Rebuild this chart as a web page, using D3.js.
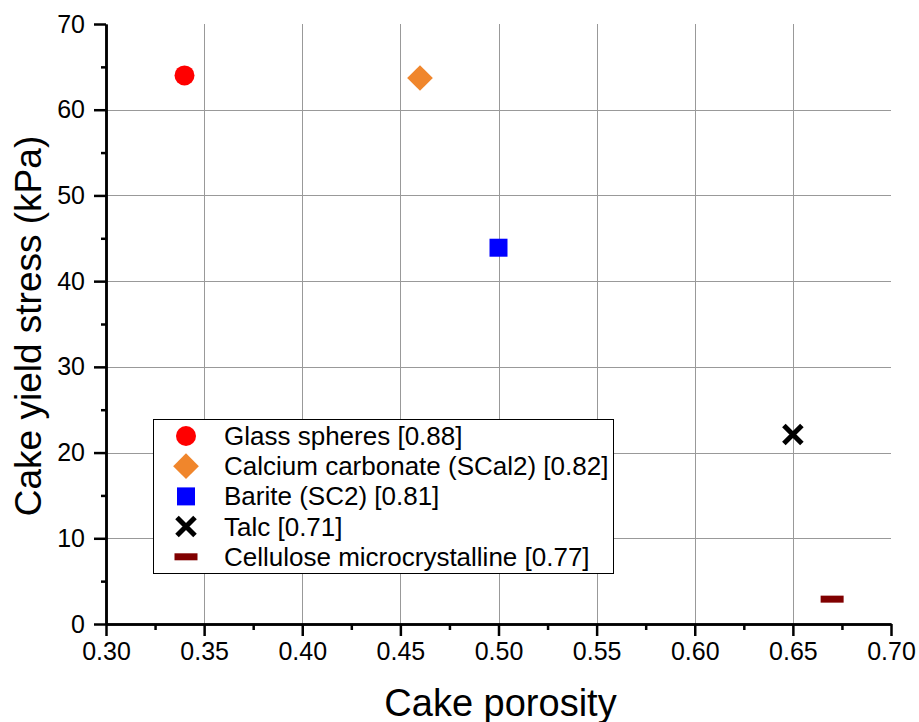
<!DOCTYPE html>
<html>
<head>
<meta charset="utf-8">
<script src="https://cdn.jsdelivr.net/npm/d3@7"></script>
<style>
    body { margin: 0; background: #fff; }
    svg { display: block; font-family: "Liberation Sans", Arial, sans-serif; }
</style>
</head>
<body>
<svg id="chart"></svg>
<script>
// данные
let materials = ['Glass spheres [0.88]', 'Calcium carbonate (SCal2) [0.82]', 'Barite (SC2) [0.81]', 'Talc [0.71]', 'Cellulose microcrystalline [0.77]'];
let porosity = [0.34, 0.46, 0.50, 0.65, 0.67];
let yieldStress = [64.0, 63.7, 43.9, 22.1, 2.9];
let xTicks = [0.30, 0.35, 0.40, 0.45, 0.50, 0.55, 0.60, 0.65, 0.70];
let yTicks = [0, 10, 20, 30, 40, 50, 60, 70];

// оформление
let shapes = ['circle', 'diamond', 'square', 'cross', 'dash'];
let colors = ['#ff0000', '#f0862c', '#0000ff', '#000000', '#800000'];

const width = 919;
const height = 722;
let svg = d3.select('#chart').attr('width', width).attr('height', height);

let scX = d3.scaleLinear().domain([0.30, 0.70]).range([106, 891]);
let scY = d3.scaleLinear().domain([0, 70]).range([624, 24]);

// сетка
let grid = svg.append('g').attr('stroke', '#999').attr('stroke-width', 1);
grid.selectAll('.gx')
    .data(xTicks.slice(1, -1))
    .enter()
    .append('line')
    .attr('x1', d => Math.round(scX(d)) + 0.5)
    .attr('x2', d => Math.round(scX(d)) + 0.5)
    .attr('y1', scY(70))
    .attr('y2', scY(0));
grid.selectAll('.gy')
    .data(yTicks.slice(1, -1))
    .enter()
    .append('line')
    .attr('x1', scX(0.30))
    .attr('x2', scX(0.70))
    .attr('y1', d => Math.round(scY(d)) + 0.5)
    .attr('y2', d => Math.round(scY(d)) + 0.5);

// оси
let minorX = xTicks.slice(0, -1).map(d => d + 0.025);
let minorY = yTicks.slice(0, -1).map(d => d + 5);

let styleAxis = (g) => {
    g.select('.domain').attr('stroke-width', 2.5);
    g.selectAll('.tick line').attr('stroke-width', 2.5);
    g.selectAll('.tick text').attr('font-size', 25).attr('fill', '#000')
        .attr('font-family', '"Liberation Sans", Arial, sans-serif');
};

svg.append('g')
    .attr('transform', `translate(0, ${scY(0)})`)
    .call(d3.axisBottom(scX).tickValues(minorX).tickSize(6).tickFormat('').tickSizeOuter(0))
    .call(styleAxis);
svg.append('g')
    .attr('transform', `translate(${scX(0.30)}, 0)`)
    .call(d3.axisLeft(scY).tickValues(minorY).tickSize(5).tickFormat('').tickSizeOuter(0))
    .call(styleAxis);

svg.append('g')
    .attr('transform', `translate(0, ${scY(0)})`)
    .call(d3.axisBottom(scX).tickValues(xTicks).tickSize(12).tickPadding(6)
        .tickFormat(d3.format('.2f')).tickSizeOuter(0))
    .call(styleAxis);
svg.append('g')
    .attr('transform', `translate(${scX(0.30)}, 0)`)
    .call(d3.axisLeft(scY).tickValues(yTicks).tickSize(12).tickPadding(9).tickSizeOuter(0))
    .call(styleAxis);

// подписи осей
svg.append('text')
    .attr('x', (scX(0.30) + scX(0.70)) / 2 + 2)
    .attr('y', 716)
    .attr('text-anchor', 'middle')
    .attr('font-size', 38)
    .text('Cake porosity');
svg.append('text')
    .attr('transform', `translate(41, ${(scY(0) + scY(70)) / 2 + 2}) rotate(-90)`)
    .attr('text-anchor', 'middle')
    .attr('font-size', 37)
    .text('Cake yield stress (kPa)');

// маркеры
function drawMarker(g, shape, color) {
    if (shape == 'circle') {
        g.append('path').attr('d', d3.symbol(d3.symbolCircle, Math.PI * 100)()).attr('fill', color);
    } else if (shape == 'diamond') {
        g.append('path').attr('d', d3.symbol(d3.symbolSquare, 330)())
            .attr('transform', 'rotate(45)').attr('fill', color);
    } else if (shape == 'square') {
        g.append('path').attr('d', d3.symbol(d3.symbolSquare, 324)()).attr('fill', color);
    } else if (shape == 'cross') {
        g.append('path').attr('d', 'M-9,-9L9,9M-9,9L9,-9')
            .attr('stroke', color).attr('stroke-width', 5).attr('fill', 'none');
    } else if (shape == 'dash') {
        g.append('rect').attr('x', -11.5).attr('y', -3.5).attr('width', 23).attr('height', 7).attr('fill', color);
    }
}

let points = porosity.map((p, i) => ({ x: p, y: yieldStress[i], shape: shapes[i], color: colors[i] }));
svg.selectAll('.pt')
    .data(points)
    .enter()
    .append('g')
    .attr('class', 'pt')
    .attr('transform', d => `translate(${scX(d.x)}, ${scY(d.y)})`)
    .each(function(d) { drawMarker(d3.select(this), d.shape, d.color); });

// легенда
let legend = svg.append('g');
legend.append('rect')
    .attr('x', 153.5).attr('y', 419.5).attr('width', 460).attr('height', 154)
    .attr('fill', '#fff').attr('stroke', '#000').attr('stroke-width', 1);
materials.forEach((name, i) => {
    let row = legend.append('g').attr('transform', `translate(186, ${436 + i * 30.2})`);
    drawMarker(row, shapes[i], colors[i]);
    row.append('text')
        .attr('x', 38)
        .attr('y', 9)
        .attr('font-size', 26)
        .text(name);
});
</script>
</body>
</html>
